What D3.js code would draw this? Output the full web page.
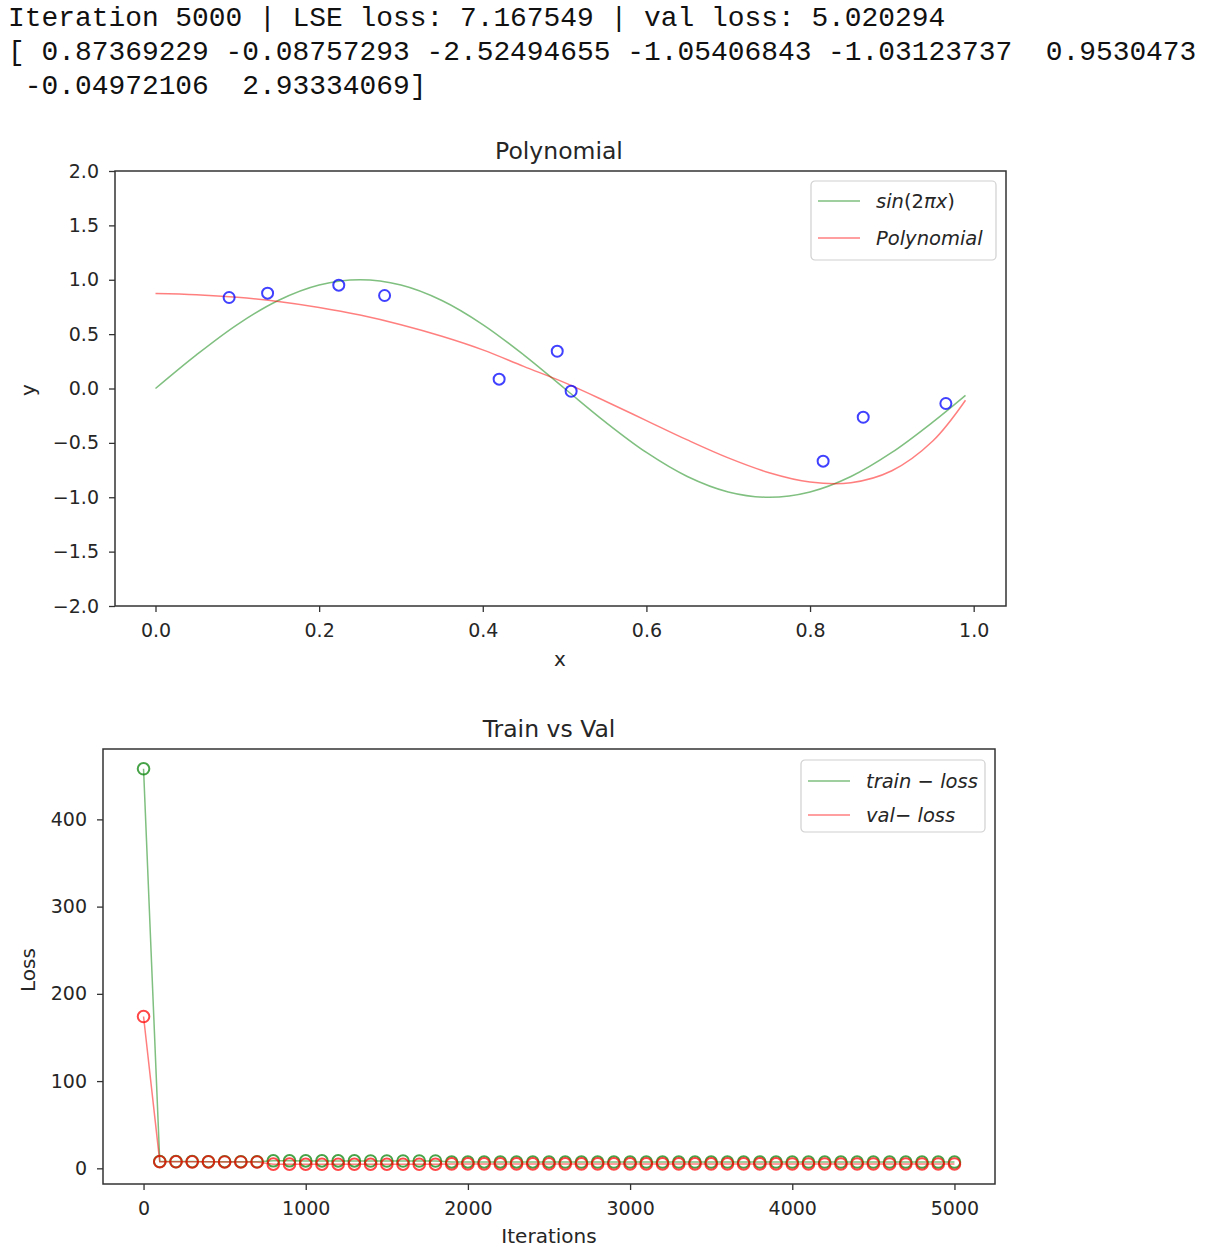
<!DOCTYPE html>
<html><head><meta charset="utf-8">
<script src="https://cdn.jsdelivr.net/npm/d3@7"></script>
<style>
body{margin:0;background:#fff;}
svg text{font-family:"DejaVu Sans",sans-serif;}
</style>
</head><body>
<svg id="c" width="1216" height="1258"></svg>
<script>
// ---------- data ----------
const headerLines = [
  "Iteration 5000 | LSE loss: 7.167549 | val loss: 5.020294",
  "[ 0.87369229 -0.08757293 -2.52494655 -1.05406843 -1.03123737  0.9530473",
  " -0.04972106  2.93334069]"
];

const curveX = [0,0.05,0.10,0.15,0.20,0.25,0.30,0.35,0.40,0.45,0.50,0.55,0.60,0.65,0.70,0.75,0.80,0.85,0.90,0.95,0.99];
const sinY   = [0,0.309,0.588,0.809,0.951,1.0,0.951,0.809,0.588,0.309,0,-0.309,-0.588,-0.809,-0.951,-1.0,-0.951,-0.809,-0.588,-0.309,-0.063];
const polyY  = [0.874,0.863,0.839,0.800,0.745,0.675,0.586,0.480,0.355,0.203,0.054,-0.117,-0.295,-0.473,-0.638,-0.774,-0.860,-0.866,-0.756,-0.483,-0.108];

const pointX = [0.090,0.137,0.224,0.280,0.420,0.491,0.508,0.816,0.865,0.966];
const pointY = [0.837,0.877,0.950,0.855,0.086,0.343,-0.025,-0.668,-0.264,-0.138];

const topXTicks = [0.0,0.2,0.4,0.6,0.8,1.0];
const topYTicks = [-2.0,-1.5,-1.0,-0.5,0.0,0.5,1.0,1.5,2.0];

const iterations = [0,100,200,300,400,500,600,700,800,900,1000,1100,1200,1300,1400,1500,1600,1700,1800,1900,
  2000,2100,2200,2300,2400,2500,2600,2700,2800,2900,3000,3100,3200,3300,3400,3500,3600,3700,3800,3900,
  4000,4100,4200,4300,4400,4500,4600,4700,4800,4900,5000];
const trainLoss = [458,7.8,7.7,7.7,7.6,7.6,7.6,7.5,8.6,8.6,8.5,8.5,8.5,8.5,8.4,8.4,8.4,8.4,8.4,7.3,
  7.3,7.3,7.3,7.3,7.3,7.3,7.2,7.2,7.2,7.2,7.2,7.2,7.2,7.2,7.2,7.2,7.2,7.2,7.2,7.2,
  7.2,7.2,7.2,7.2,7.2,7.2,7.2,7.17,7.17,7.17,7.17];
const valLoss = [174,7.6,7.5,7.4,7.4,7.3,7.3,7.3,4.8,4.8,4.7,4.7,4.7,4.7,4.7,4.7,4.7,4.7,4.7,5.1,
  5.1,5.1,5.1,5.1,5.1,5.1,5.05,5.05,5.05,5.05,5.05,5.05,5.05,5.05,5.05,5.05,5.05,5.05,5.05,5.05,
  5.03,5.03,5.03,5.03,5.03,5.03,5.03,5.02,5.02,5.02,5.02];
const botXTicks = [0,1000,2000,3000,4000,5000];
const botYTicks = [0,100,200,300,400];

// ---------- drawing ----------
const svg = d3.select("#c");
const ink = "#262626", spine = "#333";

svg.append("g").selectAll("text").data(headerLines).join("text")
  .attr("x", 8).attr("y", (d,i) => 26 + i*34)
  .style("white-space","pre")
  .attr("font-size", 27.9)
  .style("font-family","'Liberation Mono', monospace")
  .attr("fill","#111")
  .text(d => d);

function frameAxes(g, x, y, xt, yt, xfmt, yfmt) {
  const [x0,x1] = x.range(), [y0,y1] = y.range();
  const ax = g.append("g").attr("transform",`translate(0,${y0})`)
    .call(d3.axisBottom(x).tickValues(xt).tickFormat(xfmt).tickSize(6).tickPadding(8));
  const ay = g.append("g").attr("transform",`translate(${x0},0)`)
    .call(d3.axisLeft(y).tickValues(yt).tickFormat(yfmt).tickSize(6).tickPadding(10));
  [ax,ay].forEach(a => {
    a.select(".domain").remove();
    a.selectAll(".tick line").attr("stroke", spine).attr("stroke-width",1.3);
    a.selectAll(".tick text").attr("fill", ink).attr("font-size",19)
      .style("font-family","'DejaVu Sans',sans-serif");
  });
  ax.selectAll(".tick text").attr("dy","0.9em");
  g.append("rect").attr("x",x0).attr("y",y1).attr("width",x1-x0).attr("height",y0-y1)
    .attr("fill","none").attr("stroke",spine).attr("stroke-width",1.5);
}

function legend(g, x, y, w, h, items) {
  const lg = g.append("g").attr("transform",`translate(${x},${y})`);
  lg.append("rect").attr("width",w).attr("height",h).attr("rx",4)
    .attr("fill","#fff").attr("fill-opacity",0.8).attr("stroke","#d0d0d0").attr("stroke-width",1.2);
  items.forEach((it,i) => {
    const cy = it.dy;
    lg.append("line").attr("x1",7).attr("x2",49).attr("y1",cy).attr("y2",cy)
      .attr("stroke",it.color).attr("stroke-opacity",0.5).attr("stroke-width",1.5);
    const t = lg.append("text").attr("x",65).attr("y",cy+7).attr("font-size",19.5).attr("fill",ink);
    it.parts.forEach(p => t.append("tspan").attr("font-style",p[1]?"italic":"normal").text(p[0]));
  });
}

// ----- top chart -----
const gt = svg.append("g");
const xT = d3.scaleLinear().domain([-0.0495,1.0395]).range([115,1006]);
const yT = d3.scaleLinear().domain([-2,2]).range([606,171]);
const line = d3.line().curve(d3.curveCatmullRom.alpha(0.5));

gt.append("path").attr("d", line(curveX.map((v,i)=>[xT(v),yT(sinY[i])])))
  .attr("fill","none").attr("stroke","green").attr("stroke-opacity",0.5).attr("stroke-width",1.5);
gt.append("path").attr("d", line(curveX.map((v,i)=>[xT(v),yT(polyY[i])])))
  .attr("fill","none").attr("stroke","red").attr("stroke-opacity",0.5).attr("stroke-width",1.5);
gt.append("g").selectAll("circle").data(pointX).join("circle")
  .attr("cx", d=>xT(d)).attr("cy",(d,i)=>yT(pointY[i])).attr("r",5.5)
  .attr("fill","none").attr("stroke","blue").attr("stroke-opacity",0.75).attr("stroke-width",2);

frameAxes(gt, xT, yT, topXTicks, topYTicks, d3.format(".1f"), d3.format(".1f"));
gt.append("text").attr("x",559).attr("y",159).attr("text-anchor","middle").attr("font-size",23.5).attr("fill",ink).text("Polynomial");
gt.append("text").attr("x",560).attr("y",666).attr("text-anchor","middle").attr("font-size",20).attr("fill",ink).text("x");
gt.append("text").attr("transform","translate(35,390) rotate(-90)").attr("text-anchor","middle").attr("font-size",20).attr("fill",ink).text("y");
legend(gt, 811, 181, 185, 79, [
  {color:"green", dy:20, parts:[["sin",1],["(2",0],["πx",1],[")",0]]},
  {color:"red", dy:57, parts:[["Polynomial",1]]}
]);

// ----- bottom chart -----
const gb = svg.append("g");
const xB = d3.scaleLinear().domain([-250,5250]).range([103,995]);
const allL = trainLoss.concat(valLoss);
const lo = d3.min(allL), hi = d3.max(allL), m = (hi-lo)*0.05;
const yB = d3.scaleLinear().domain([lo-m, hi+m]).range([1184,749]);
const lin = d3.line();

function series(vals, color) {
  gb.append("path").attr("d", lin(iterations.map((v,i)=>[xB(v),yB(vals[i])])))
    .attr("fill","none").attr("stroke",color).attr("stroke-opacity",0.5).attr("stroke-width",1.5);
  gb.append("g").selectAll("circle").data(iterations).join("circle")
    .attr("cx",d=>xB(d)).attr("cy",(d,i)=>yB(vals[i])).attr("r",5.8)
    .attr("fill","none").attr("stroke",color).attr("stroke-opacity",0.72).attr("stroke-width",2);
}
series(trainLoss, "green");
series(valLoss, "red");

frameAxes(gb, xB, yB, botXTicks, botYTicks, d3.format("d"), d3.format("d"));
gb.append("text").attr("x",549).attr("y",737).attr("text-anchor","middle").attr("font-size",23.5).attr("fill",ink).text("Train vs Val");
gb.append("text").attr("x",549).attr("y",1243).attr("text-anchor","middle").attr("font-size",20).attr("fill",ink).text("Iterations");
gb.append("text").attr("transform","translate(35,970) rotate(-90)").attr("text-anchor","middle").attr("font-size",20).attr("fill",ink).text("Loss");
legend(gb, 801, 760, 184, 72, [
  {color:"green", dy:21, parts:[["train",1],[" − ",0],["loss",1]]},
  {color:"red", dy:55, parts:[["val",1],["− ",0],["loss",1]]}
]);
</script>
</body></html>
